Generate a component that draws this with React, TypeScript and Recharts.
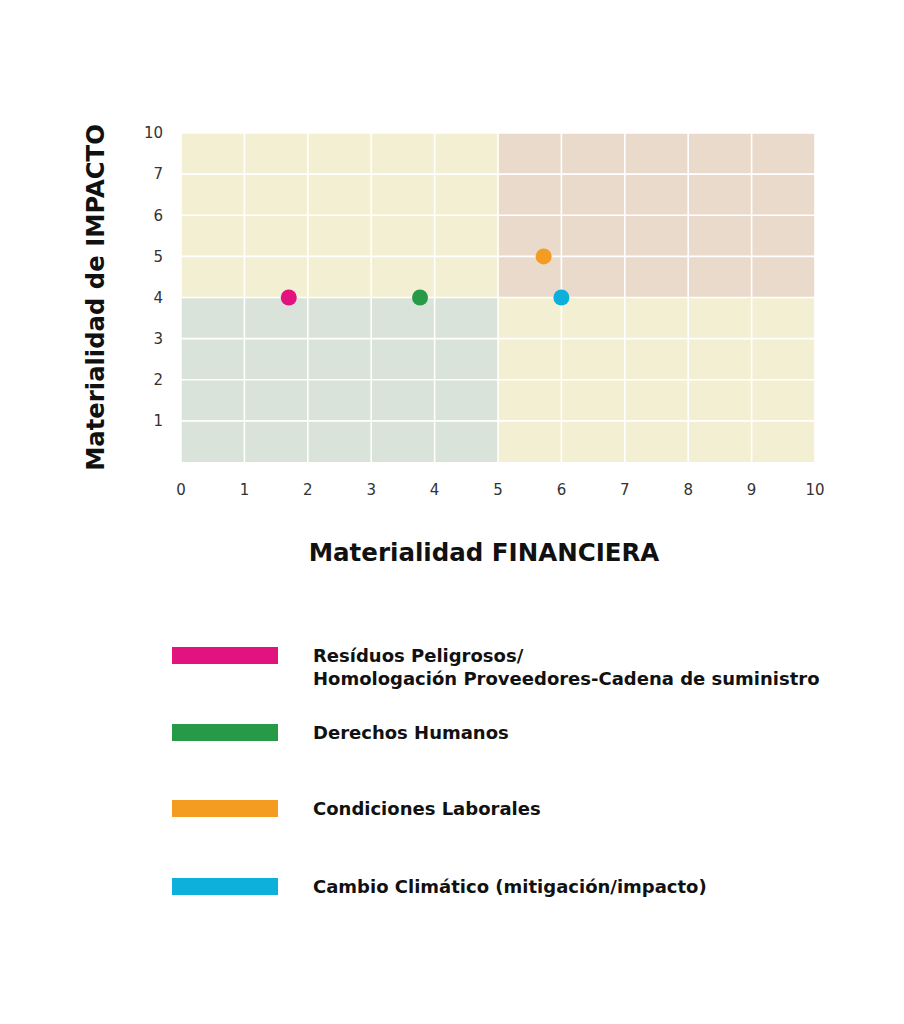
import React from "react";
import {
  ScatterChart,
  Scatter,
  XAxis,
  YAxis,
  ReferenceArea,
  ReferenceLine,
  Label,
} from "recharts";

const xTicks = [0, 1, 2, 3, 4, 5, 6, 7, 8, 9, 10];
const yTicks = [1, 2, 3, 4, 5, 6, 7, 8];
const yTickLabels = ["1", "2", "3", "4", "5", "6", "7", "10"];

const seriesNames = [
  "Resíduos Peligrosos/\nHomologación Proveedores-Cadena de suministro",
  "Derechos Humanos",
  "Condiciones Laborales",
  "Cambio Climático (mitigación/impacto)",
];
const seriesColors = ["#e2127f", "#279a48", "#f39c21", "#0cb0da"];
const seriesX = [1.7, 3.77, 5.72, 6.0];
const seriesY = [4, 4, 5, 4];

const quadrants = [
  { x1: 0, x2: 5, y1: 4, y2: 8, fill: "#f3efd3" },
  { x1: 5, x2: 10, y1: 4, y2: 8, fill: "#eadacb" },
  { x1: 0, x2: 5, y1: 0, y2: 4, fill: "#d9e3d9" },
  { x1: 5, x2: 10, y1: 0, y2: 4, fill: "#f3efd3" },
];

const legendTops = [639, 716, 792, 870];

const FONT = "'DejaVu Sans', 'Open Sans', sans-serif";
const TICKFONT = "'DejaVu Sans', sans-serif";

const YLabel = (props: any) => {
  const vb = props.viewBox || {};
  const cx = 87;
  const cy = vb.y + vb.height / 2;
  return (
    <text
      x={cx}
      y={cy}
      transform={`rotate(-90, ${cx}, ${cy})`}
      textAnchor="middle"
      dominantBaseline="central"
      fontFamily={FONT}
      fontWeight={700}
      fontSize={24.3}
      fill="#111"
    >
      Materialidad de IMPACTO
    </text>
  );
};

const XLabel = () => {
  const cx = 476;
  const cy = 544;
  return (
    <text
      x={cx}
      y={cy}
      textAnchor="middle"
      dominantBaseline="central"
      fontFamily={FONT}
      fontWeight={700}
      fontSize={24.5}
      fill="#111"
    >
      Materialidad FINANCIERA
    </text>
  );
};

const Dot = (props: any) => (
  <circle cx={props.cx} cy={props.cy} r={8} fill={props.fill} />
);

export default function App() {
  return (
    <div style={{ position: "relative", width: 888, height: 1008, background: "#fff", fontFamily: FONT }}>
      <ScatterChart
        width={880}
        height={580}
        margin={{ top: 125, right: 73, left: 0, bottom: 0 }}
      >
        {quadrants.map((q, i) => (
          <ReferenceArea
            key={"q" + i}
            x1={q.x1}
            x2={q.x2}
            y1={q.y1}
            y2={q.y2}
            fill={q.fill}
            fillOpacity={1}
            stroke="none"
            ifOverflow="visible"
          />
        ))}
        {xTicks.map((v) => (
          <ReferenceLine key={"vx" + v} x={v} stroke="#ffffff" strokeWidth={1.6} ifOverflow="visible" />
        ))}
        {yTicks.map((v) => (
          <ReferenceLine key={"hy" + v} y={v} stroke="#ffffff" strokeWidth={1.6} ifOverflow="visible" />
        ))}
        <XAxis
          type="number"
          dataKey="x"
          domain={[0, 10]}
          ticks={xTicks}
          interval={0}
          height={126}
          axisLine={false}
          tickLine={false}
          tickSize={0}
          tickMargin={22}
          tick={{ fill: "#333", fontSize: 15, fontFamily: TICKFONT }}
        >
          <Label content={<XLabel />} />
        </XAxis>
        <YAxis
          type="number"
          dataKey="y"
          domain={[0, 8]}
          ticks={yTicks}
          interval={0}
          width={173}
          axisLine={false}
          tickLine={false}
          tickSize={0}
          tickMargin={18}
          tickFormatter={(v: number) => yTickLabels[yTicks.indexOf(v)] ?? String(v)}
          tick={{ fill: "#333", fontSize: 15, fontFamily: TICKFONT }}
        >
          <Label content={<YLabel />} />
        </YAxis>
        {seriesNames.map((name, i) => (
          <Scatter
            key={name}
            name={name}
            data={[{ x: seriesX[i], y: seriesY[i] }]}
            fill={seriesColors[i]}
            shape={<Dot />}
            isAnimationActive={false}
          />
        ))}
      </ScatterChart>
      {seriesNames.map((name, i) => (
        <div key={name}>
          <div
            style={{
              position: "absolute",
              left: 164,
              top: legendTops[i],
              width: 106,
              height: 17,
              background: seriesColors[i],
            }}
          />
          <div
            style={{
              position: "absolute",
              left: 305,
              top: legendTops[i] - 3,
              fontSize: 18,
              fontWeight: 700,
              lineHeight: "23px",
              color: "#111",
              whiteSpace: "pre",
            }}
          >
            {name}
          </div>
        </div>
      ))}
    </div>
  );
}
